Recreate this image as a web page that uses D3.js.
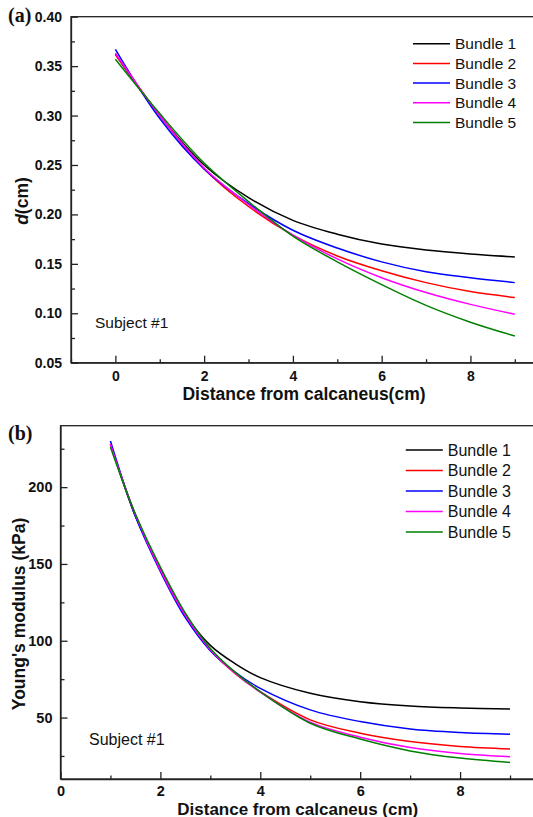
<!DOCTYPE html>
<meta charset="utf-8">
<style>
body { margin: 0; background: #fff; }
.chart text { font-family: "Liberation Sans", Arial, sans-serif; fill: #111; }
.chart .tick text { font-weight: bold; font-size: 14px; }
.chart .domain, .chart .tick line { stroke: #222; stroke-width: 1.3; }
.chart .frame { fill: none; stroke: #222; stroke-width: 1.3; }
.chart .curve { fill: none; stroke-width: 1.5; }
.chart .title { font-weight: bold; font-size: 17.5px; }
.chart .panel-tag { font-family: "Liberation Serif", "Times New Roman", serif; font-weight: bold; font-size: 20px; }
.chart .note, .chart .legend text { font-size: 15.5px; }
</style>
<body>
<svg class="chart js-chart"></svg>

<script src="https://cdnjs.cloudflare.com/ajax/libs/d3/7.8.5/d3.min.js"></script>
<script type="text/javascript">
"use strict";

// panel (a): tendon thickness d (cm)
var aDistance = [0, 1, 2, 3, 4, 5, 6, 7, 8, 9];
var aBundle1 = [0.362, 0.300, 0.250, 0.217, 0.194, 0.180, 0.170, 0.164, 0.160, 0.157];
var aBundle2 = [0.362, 0.300, 0.246, 0.208, 0.179, 0.158, 0.143, 0.131, 0.122, 0.116];
var aBundle3 = [0.367, 0.297, 0.246, 0.211, 0.184, 0.166, 0.152, 0.142, 0.136, 0.131];
var aBundle4 = [0.363, 0.300, 0.247, 0.210, 0.179, 0.155, 0.136, 0.121, 0.109, 0.099];
var aBundle5 = [0.357, 0.302, 0.252, 0.213, 0.178, 0.152, 0.129, 0.108, 0.091, 0.077];
var aXTicks = [0, 2, 4, 6, 8];
var aXMinor = [-1, 1, 3, 5, 7, 9];
var aYTicks = [0.05, 0.10, 0.15, 0.20, 0.25, 0.30, 0.35, 0.40];
var aYMinor = [0.075, 0.125, 0.175, 0.225, 0.275, 0.325, 0.375];

// panel (b): Young's modulus (kPa)
var bDistance = [1, 1.5, 2, 2.5, 3, 3.5, 4, 5, 6, 7, 8, 9];
var bBundle1 = [228, 181, 147, 117, 97.0, 85.0, 76.0, 65.8, 60.3, 57.5, 56.2, 55.5];
var bBundle2 = [228, 182, 146, 116, 93.8, 78.6, 66.8, 48.5, 39.8, 34.4, 31.2, 29.6];
var bBundle3 = [230, 181, 145, 115, 93.5, 79.5, 69.0, 55.0, 47.4, 42.6, 40.3, 39.2];
var bBundle4 = [228, 182, 146, 116.5, 94.2, 78.8, 66.6, 47.0, 37.2, 30.5, 26.6, 24.5];
var bBundle5 = [226, 182.5, 148, 118, 95.0, 79.4, 66.8, 46.3, 36.0, 28.3, 23.6, 20.8];
var bXTicks = [0, 2, 4, 6, 8];
var bXMinor = [1, 3, 5, 7, 9];
var bYTicks = [50, 100, 150, 200];
var bYMinor = [25, 75, 125, 175, 225];

var bundleNames = ["Bundle 1", "Bundle 2", "Bundle 3", "Bundle 4", "Bundle 5"];
var bundleColors = ["#000000", "#ff0000", "#0000ff", "#ff00ff", "#008000"];

var width = 533,
    height = 817;

var svg = d3.select(".js-chart")
    .attr("width", width)
    .attr("height", height);

function drawPanel(opt) {
    var x = d3.scaleLinear().domain(opt.xDomain).range([opt.left, opt.right]);
    var y = d3.scaleLinear().domain(opt.yDomain).range([opt.bottom, opt.top]);
    var g = svg.append("g");

    g.append("rect")
        .attr("class", "frame")
        .attr("x", opt.left)
        .attr("y", opt.top)
        .attr("width", opt.right - opt.left)
        .attr("height", opt.bottom - opt.top);

    // minor ticks
    g.append("g")
        .attr("transform", "translate(0," + opt.bottom + ")")
        .call(d3.axisBottom(x).tickValues(opt.xMinor).tickSize(-3.5).tickFormat(""))
        .call(function(s) { s.select(".domain").remove(); });
    g.append("g")
        .attr("transform", "translate(" + opt.left + ",0)")
        .call(d3.axisLeft(y).tickValues(opt.yMinor).tickSize(-4).tickFormat(""))
        .call(function(s) { s.select(".domain").remove(); });

    // major ticks
    g.append("g")
        .attr("transform", "translate(0," + opt.bottom + ")")
        .call(d3.axisBottom(x).tickValues(opt.xTicks).tickSize(-7).tickSizeOuter(0)
            .tickPadding(opt.xPad).tickFormat(d3.format("d")))
        .call(function(s) { s.selectAll("text").style("font-size", opt.tickFont + "px"); });
    g.append("g")
        .attr("transform", "translate(" + opt.left + ",0)")
        .call(d3.axisLeft(y).tickValues(opt.yTicks).tickSize(-7).tickSizeOuter(0)
            .tickPadding(opt.yPad).tickFormat(d3.format(opt.yFormat)))
        .call(function(s) { s.selectAll("text").style("font-size", opt.tickFont + "px"); });

    var line = d3.line()
        .x(function(d) { return x(d[0]); })
        .y(function(d) { return y(d[1]); })
        .curve(d3.curveCatmullRom.alpha(0.5));

    opt.series.forEach(function(values, i) {
        g.append("path")
            .attr("class", "curve")
            .attr("stroke", bundleColors[i])
            .attr("d", line(d3.zip(opt.distance, values)));
    });

    var legend = g.append("g").attr("class", "legend");
    bundleNames.forEach(function(name, i) {
        var ly = opt.legendY + i * opt.legendStep;
        legend.append("line")
            .attr("x1", opt.legendX).attr("x2", opt.legendX + 37)
            .attr("y1", ly).attr("y2", ly)
            .attr("stroke", bundleColors[i])
            .attr("stroke-width", 1.5);
        legend.append("text")
            .attr("x", opt.legendX + 42)
            .attr("y", ly)
            .attr("dy", "0.36em")
            .style("font-size", opt.legendFont + "px")
            .text(name);
    });

    g.append("text")
        .attr("class", "note")
        .attr("x", opt.noteX)
        .attr("y", opt.noteY)
        .style("font-size", opt.legendFont + "px")
        .text("Subject #1");

    g.append("text")
        .attr("class", "title")
        .attr("text-anchor", "middle")
        .attr("x", (opt.left + opt.right) / 2)
        .attr("y", opt.xTitleY)
        .style("font-size", opt.xTitleFont + "px")
        .text(opt.xTitle);

    var yt = g.append("text")
        .attr("class", "title")
        .attr("text-anchor", "middle")
        .attr("transform", "translate(" + opt.yTitleX + "," + opt.yTitleY + ") rotate(-90)");
    opt.yTitle(yt);

    g.append("text")
        .attr("class", "panel-tag")
        .attr("x", opt.tagX)
        .attr("y", opt.tagY)
        .text(opt.tag);
}

drawPanel({
    xDomain: [-1, 9.5], yDomain: [0.05, 0.40],
    left: 71, right: 537, top: 16.7, bottom: 362.7,
    xTicks: aXTicks, xMinor: aXMinor, yTicks: aYTicks, yMinor: aYMinor,
    yFormat: ".2f", xPad: 8, yPad: 9, tickFont: 14,
    distance: aDistance,
    series: [aBundle1, aBundle2, aBundle3, aBundle4, aBundle5],
    legendX: 413, legendY: 43.7, legendStep: 19.7, legendFont: 15.5,
    noteX: 95, noteY: 328,
    xTitle: "Distance from calcaneus(cm)", xTitleY: 399.5, xTitleFont: 17.5,
    yTitleX: 28, yTitleY: 201,
    yTitle: function(t) {
        t.append("tspan").style("font-style", "italic").text("d");
        t.append("tspan").text("(cm)");
    },
    tag: "(a)", tagX: 8, tagY: 22
});

drawPanel({
    xDomain: [0, 9.5], yDomain: [10, 240],
    left: 60.5, right: 535, top: 425.7, bottom: 779,
    xTicks: bXTicks, xMinor: bXMinor, yTicks: bYTicks, yMinor: bYMinor,
    yFormat: "d", xPad: 7, yPad: 8, tickFont: 14.5,
    distance: bDistance,
    series: [bBundle1, bBundle2, bBundle3, bBundle4, bBundle5],
    legendX: 405.8, legendY: 450, legendStep: 20.5, legendFont: 16,
    noteX: 89, noteY: 745,
    xTitle: "Distance from calcaneus (cm)", xTitleY: 814.5, xTitleFont: 17,
    yTitleX: 25, yTitleY: 614,
    yTitle: function(t) { t.text("Young's modulus (kPa)"); },
    tag: "(b)", tagX: 8, tagY: 440
});

</script>
</body>
